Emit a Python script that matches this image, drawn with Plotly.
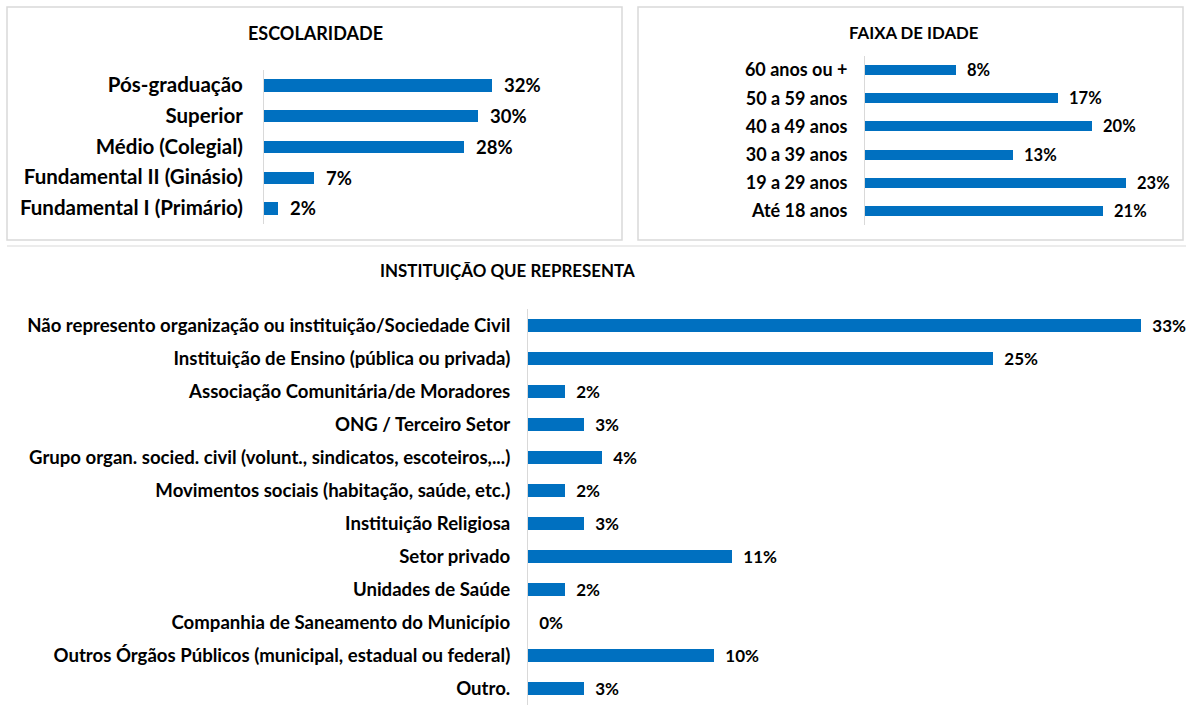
import plotly.graph_objects as go

W, H = 1186, 706

# ---- data ----
escolaridade_cats = ["Pós-graduação", "Superior", "Médio (Colegial)",
                     "Fundamental II (Ginásio)", "Fundamental I (Primário)"]
escolaridade_vals = [32, 30, 28, 7, 2]

idade_cats = ["60 anos ou +", "50 a 59 anos", "40 a 49 anos",
              "30 a 39 anos", "19 a 29 anos", "Até 18 anos"]
idade_vals = [8, 17, 20, 13, 23, 21]

inst_cats = ["Não represento organização ou instituição/Sociedade Civil",
             "Instituição de Ensino (pública ou privada)",
             "Associação Comunitária/de Moradores",
             "ONG / Terceiro Setor",
             "Grupo organ. socied. civil (volunt., sindicatos, escoteiros,...)",
             "Movimentos sociais (habitação, saúde, etc.)",
             "Instituição Religiosa",
             "Setor privado",
             "Unidades de Saúde",
             "Companhia de Saneamento do Município",
             "Outros Órgãos Públicos (municipal, estadual ou federal)",
             "Outro."]
inst_vals = [33, 25, 2, 3, 4, 2, 3, 11, 2, 0, 10, 3]

BLUE = "#0070C0"
FONT = "Lato"
GRID = "#d9d9d9"


def px(x):
    return x / W


def py(y):
    return 1 - y / H


fig = go.Figure()

panels = [
    (escolaridade_cats, escolaridade_vals, "x", "y", 18.5, 0.4),
    (idade_cats, idade_vals, "x2", "y2", 16.5, 0.36),
    (inst_cats, inst_vals, "x3", "y3", 17, 0.38),
]
for cats, vals, xa, ya, tsize, bw in panels:
    fig.add_trace(go.Bar(
        x=vals, y=cats, orientation="h", xaxis=xa, yaxis=ya,
        marker=dict(color=BLUE, line=dict(width=0)), width=bw,
        text=[f"  {v}%" for v in vals], textposition="outside", constraintext="none",
        textfont=dict(family=FONT, size=tsize, color="black", weight="bold"),
        cliponaxis=False, showlegend=False, hoverinfo="skip",
    ))

common_x = dict(showgrid=False, zeroline=False, showticklabels=False, showline=False, fixedrange=True)


def yax(size, domain, anchor, standoff):
    return dict(domain=domain, anchor=anchor, autorange="reversed", showgrid=False,
                showline=True, linecolor=GRID, linewidth=1, ticks="", fixedrange=True,
                ticklabelstandoff=standoff,
                tickfont=dict(family=FONT, size=size, color="black", weight="bold"))


fig.update_layout(
    width=W, height=H, margin=dict(l=0, r=0, t=0, b=0),
    paper_bgcolor="white", plot_bgcolor="white", bargap=0,
    xaxis=dict(domain=[px(264), px(600)], range=[0, 47.1], anchor="y", **common_x),
    yaxis=yax(20.5, [py(223.5), py(69.5)], "x", 16),
    xaxis2=dict(domain=[px(865), px(1160)], range=[0, 26], anchor="y2", **common_x),
    yaxis2=yax(18, [py(225), py(56)], "x2", 13),
    xaxis3=dict(domain=[px(528), px(1186)], range=[0, 35.4], anchor="y3", **common_x),
    yaxis3=yax(18.6, [py(704.5), py(308.5)], "x3", 13),
)

# panel boxes
fig.add_shape(type="rect", xref="paper", yref="paper", x0=px(7), x1=px(622), y0=py(240), y1=py(7),
              line=dict(color=GRID, width=1.5), fillcolor="rgba(0,0,0,0)", layer="below")
fig.add_shape(type="rect", xref="paper", yref="paper", x0=px(638), x1=px(1183), y0=py(240), y1=py(7),
              line=dict(color=GRID, width=1.5), fillcolor="rgba(0,0,0,0)", layer="below")
fig.add_shape(type="line", xref="paper", yref="paper", x0=px(7), x1=px(1186), y0=py(246), y1=py(246),
              line=dict(color="#e6e6e6", width=1.5), layer="below")

titles = [("ESCOLARIDADE", 315, 33, 18), ("FAIXA DE IDADE", 913, 33, 16.8),
          ("INSTITUIÇÃO QUE REPRESENTA", 507, 270, 16.9)]
for t, x, y, s in titles:
    fig.add_annotation(text=t, xref="paper", yref="paper", x=px(x), y=py(y),
                       xanchor="center", yanchor="middle", showarrow=False,
                       font=dict(family=FONT, size=s, color="black", weight="bold"))

fig.write_html("out.html", config={"displayModeBar": False},
               post_script="document.body.style.margin='0';document.body.style.overflow='hidden';")
